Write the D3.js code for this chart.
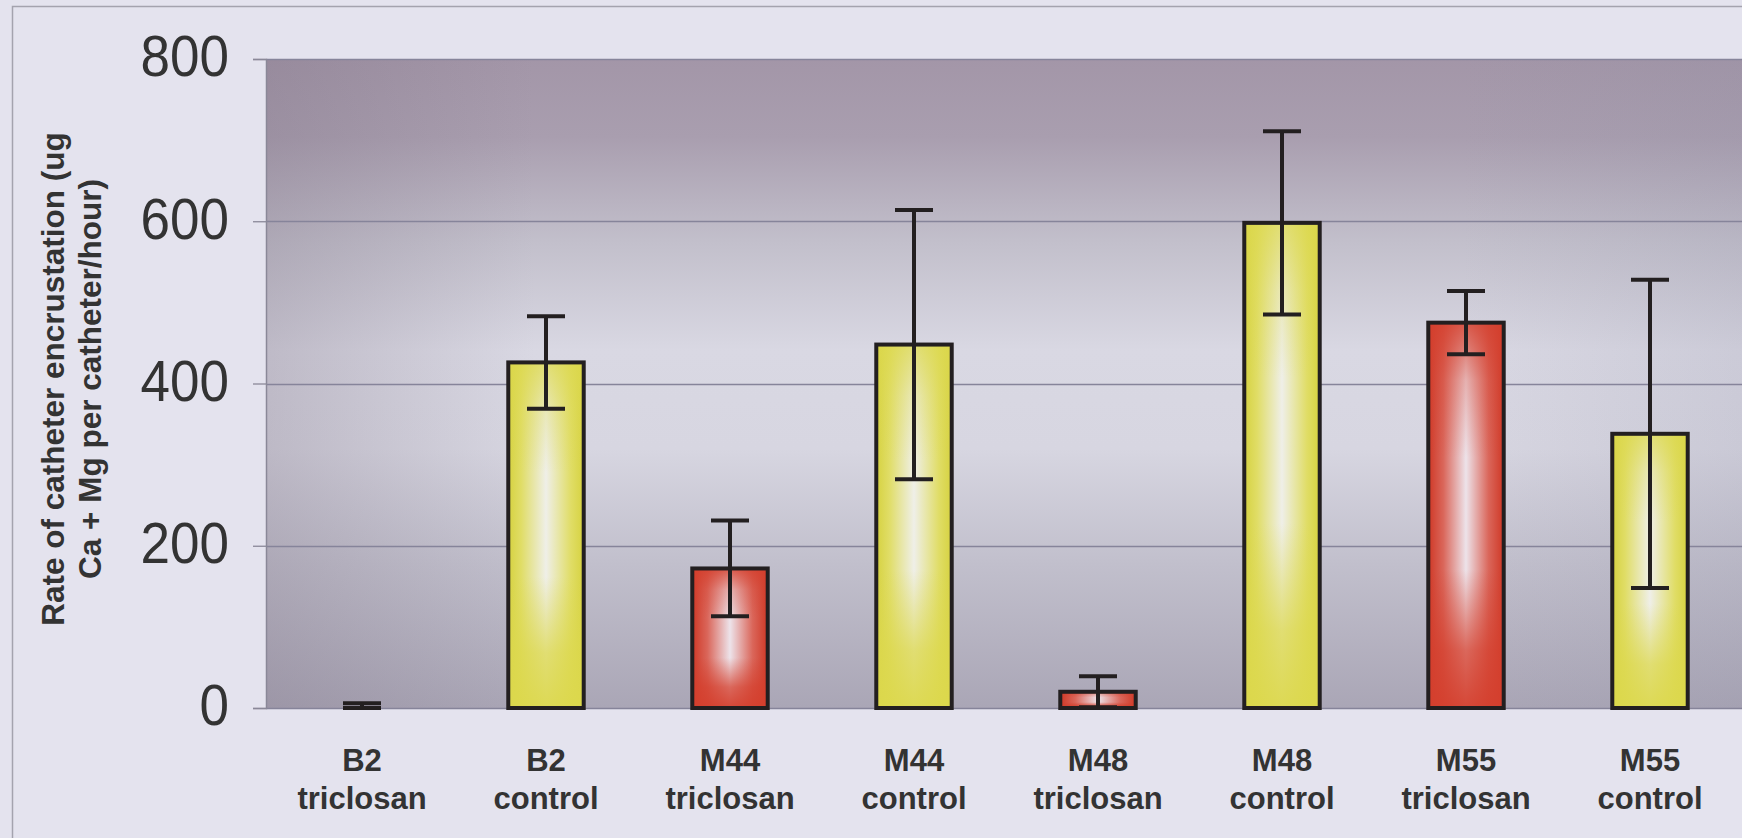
<!DOCTYPE html>
<html>
<head>
<meta charset="utf-8">
<script src="https://cdn.jsdelivr.net/npm/d3@7"></script>
<style>
  html, body { margin: 0; padding: 0; background: #e4e3ee; overflow: hidden; }
  svg { display: block; }
</style>
</head>
<body>
<svg id="chart" width="1742" height="838"></svg>
<script>
// ---- data ----
const strains    = ["B2", "B2", "M44", "M44", "M48", "M48", "M55", "M55"];
const treatments = ["triclosan", "control", "triclosan", "control", "triclosan", "control", "triclosan", "control"];
const values     = [0, 426, 172, 448, 20, 598, 475, 338];
const errors     = [6, 57, 59, 166, 19, 113, 39, 190];
const yTicks     = [0, 200, 400, 600, 800];
const yTitle     = ["Rate of catheter encrustation (ug", "Ca + Mg per catheter/hour)"];

const W = 1742, H = 838;
const plot = { left: 266, top: 59, bottom: 708, right: 1760 };

const svg = d3.select("#chart");
const defs = svg.append("defs");

// background frame
svg.append("rect").attr("x", 0).attr("y", 0).attr("width", W).attr("height", H).attr("fill", "#e4e3ee");
svg.append("rect").attr("x", 12.5).attr("y", 6.5).attr("width", W + 20).attr("height", H + 20)
  .attr("fill", "none").attr("stroke", "#a4a3ae").attr("stroke-width", 1.5);

// scales
const ids = d3.range(values.length);
const x = d3.scaleBand().domain(ids).range([270, 1742]).paddingInner(0.59).paddingOuter(0.295);
const y = d3.scaleLinear().domain([0, 800]).range([plot.bottom, plot.top]);

// gradients
function lin(id, x1, y1, x2, y2, stops) {
  const g = defs.append("linearGradient").attr("id", id)
    .attr("x1", x1).attr("y1", y1).attr("x2", x2).attr("y2", y2);
  stops.forEach(s => g.append("stop").attr("offset", s[0]).attr("stop-color", s[1]).attr("stop-opacity", s[2] === undefined ? 1 : s[2]));
}
lin("bgV", 0, 0, 0, 1, [[0, "#a396a8"], [0.12, "#a99eaf"], [0.28, "#c2bfcb"], [0.45, "#d9d8e3"], [0.6, "#d7d6e1"], [0.78, "#c1bfcc"], [1, "#aaa6b6"]]);
lin("bgH", 0, 0, 1, 0, [[0, "#7a6e80", 0.28], [0.18, "#7a6e80", 0], [0.8, "#8a8aa0", 0], [1, "#8a8aa0", 0.18]]);

lin("yH", 0, 0, 1, 0, [[0, "#d6d240"], [0.17, "#e0dd66"], [0.5, "#efefe8"], [0.83, "#e0dd66"], [1, "#d6d240"]]);
lin("yV", 0, 0, 0, 1, [[0, "#dcd84c", 0.75], [0.14, "#dcd84c", 0.3], [0.32, "#dcd84c", 0], [0.62, "#dcd84c", 0], [0.84, "#dcd84c", 0.75], [1, "#dcd84c", 0.95]]);
lin("rH", 0, 0, 1, 0, [[0, "#cf3826"], [0.2, "#da665a"], [0.5, "#ede3ea"], [0.8, "#da665a"], [1, "#cf3826"]]);
lin("rV", 0, 0, 0, 1, [[0, "#d43f2d", 0.85], [0.15, "#d43f2d", 0.3], [0.35, "#d43f2d", 0], [0.64, "#d43f2d", 0], [0.85, "#d43f2d", 0.75], [1, "#d43f2d", 0.95]]);

svg.append("rect").attr("x", plot.left).attr("y", plot.top)
  .attr("width", plot.right - plot.left).attr("height", plot.bottom - plot.top).attr("fill", "url(#bgV)");
svg.append("rect").attr("x", plot.left).attr("y", plot.top)
  .attr("width", plot.right - plot.left).attr("height", plot.bottom - plot.top).attr("fill", "url(#bgH)");

// gridlines
svg.append("g").selectAll("line").data(yTicks).join("line")
  .attr("x1", plot.left).attr("x2", plot.right)
  .attr("y1", d => Math.round(y(d)) + 0.5).attr("y2", d => Math.round(y(d)) + 0.5)
  .attr("stroke", "#86849a").attr("stroke-width", 1.3);

// y axis
const yAxis = svg.append("g").attr("transform", `translate(${plot.left},0)`)
  .call(d3.axisLeft(y).tickValues(yTicks).tickSize(13).tickPadding(24).tickFormat(d3.format("d")));
yAxis.select(".domain").attr("stroke", "#8a8898").attr("stroke-width", 1.5);
yAxis.selectAll(".tick line").attr("stroke", "#8a8898").attr("stroke-width", 1.3);
yAxis.selectAll(".tick text")
  .attr("fill", "#333")
  .style("font-family", "'Liberation Sans', Arial, sans-serif")
  .style("font-size", "58px")
  .attr("dy", "0.29em")
  .attr("textLength", d => String(d).length * 29.5)
  .attr("lengthAdjust", "spacingAndGlyphs");

// y title
const yt = svg.append("g").attr("transform", "translate(0,379)");
yTitle.forEach((t, i) => {
  yt.append("text")
    .attr("transform", `translate(${i === 0 ? 64 : 101},0) rotate(-90)`)
    .attr("text-anchor", "middle")
    .attr("fill", "#333")
    .style("font-family", "'Liberation Sans', Arial, sans-serif")
    .style("font-weight", "bold")
    .style("font-size", "31.5px")
    .text(t);
});

// bars
const bw = x.bandwidth();
const isT = i => treatments[i] === "triclosan";
const bars = svg.append("g");
ids.forEach(i => {
  const x0 = x(i), y0 = y(values[i]), h = y(0) - y(values[i]);
  if (h <= 0) return;
  bars.append("rect").attr("x", x0).attr("y", y0).attr("width", bw).attr("height", h)
    .attr("fill", isT(i) ? "url(#rH)" : "url(#yH)");
  bars.append("rect").attr("x", x0).attr("y", y0).attr("width", bw).attr("height", h)
    .attr("fill", isT(i) ? "url(#rV)" : "url(#yV)")
    .attr("stroke", "#231f20").attr("stroke-width", 4);
});

// error bars
const cap = 38;
const eb = svg.append("g").attr("stroke", "#231f20").attr("stroke-width", 4);
ids.forEach(i => {
  const cx = x(i) + bw / 2;
  const hi = values[i] + errors[i], lo = Math.max(0, values[i] - errors[i]);
  eb.append("line").attr("x1", cx).attr("x2", cx).attr("y1", y(hi)).attr("y2", y(lo));
  eb.append("line").attr("x1", cx - cap / 2).attr("x2", cx + cap / 2).attr("y1", y(hi)).attr("y2", y(hi));
  eb.append("line").attr("x1", cx - cap / 2).attr("x2", cx + cap / 2).attr("y1", y(lo)).attr("y2", y(lo));
});

// x labels
const xl = svg.append("g")
  .style("font-family", "'Liberation Sans', Arial, sans-serif")
  .style("font-weight", "bold")
  .style("font-size", "31px")
  .attr("fill", "#333")
  .attr("text-anchor", "middle");
ids.forEach(i => {
  const cx = x(i) + bw / 2;
  xl.append("text").attr("x", cx).attr("y", 771).text(strains[i]);
  xl.append("text").attr("x", cx).attr("y", 809).text(treatments[i]);
});
</script>
</body>
</html>
